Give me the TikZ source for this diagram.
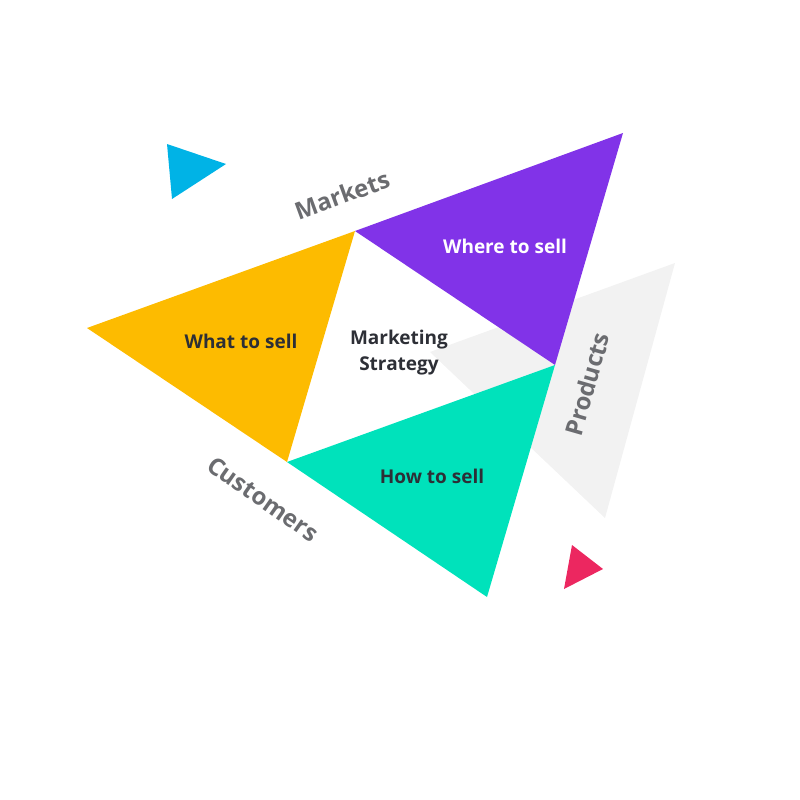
\documentclass[tikz,border=0pt]{standalone}
\usepackage{fontspec}
\setmainfont{Open Sans}
\definecolor{cyellow}{HTML}{FDBB00}
\definecolor{cpurple}{HTML}{8133E8}
\definecolor{cteal}{HTML}{00E2BB}
\definecolor{cgray}{HTML}{F2F2F2}
\definecolor{ccyan}{HTML}{00B3E6}
\definecolor{cpink}{HTML}{EC2760}
\definecolor{ctext}{HTML}{2D2F36}
\definecolor{clabel}{HTML}{6B6C70}
\begin{document}
\begin{tikzpicture}[x=1pt,y=-1pt,
  lbl/.style={font=\bfseries\fontsize{19}{23}\selectfont, text=ctext, align=center},
  side/.style={font=\bfseries\fontsize{24}{28}\selectfont, text=clabel}]
\useasboundingbox (0,0) rectangle (800,800);
% coordinates
\coordinate (A) at (355,231);
\coordinate (B) at (555,365);
\coordinate (C) at (287,462);
\coordinate (L) at (87,328);
\coordinate (T) at (623,133);
\coordinate (D) at (487,597);
% gray triangle
\fill[cgray] (430,352) -- (675,263) -- (605,518) -- cycle;
% main triangles
\fill[cyellow] (L) -- (A) -- (C) -- cycle;
\fill[cpurple] (A) -- (T) -- (B) -- cycle;
\fill[cteal] (C) -- (B) -- (D) -- cycle;
% small triangles
\fill[ccyan] (167,144) -- (226,164) -- (172,199) -- cycle;
\fill[cpink] (572,545) -- (603,569) -- (564,589) -- cycle;
% labels
\node[lbl] (what) at (241,341) {What to sell};
\node[lbl, text=white] (where) at (505,246) {Where to sell};
\node[lbl] (how) at (432,476) {How to sell};
\node[lbl, font=\bfseries\fontsize{19}{26}\selectfont] (center) at (399,353) {Marketing\\Strategy};
\node[side, rotate=20] (markets) at (342,195) {Markets};
\node[side, rotate=-35] (customers) at (263,499) {Customers};
\node[side, rotate=74] (products) at (587,384) {Products};
\end{tikzpicture}
\end{document}
